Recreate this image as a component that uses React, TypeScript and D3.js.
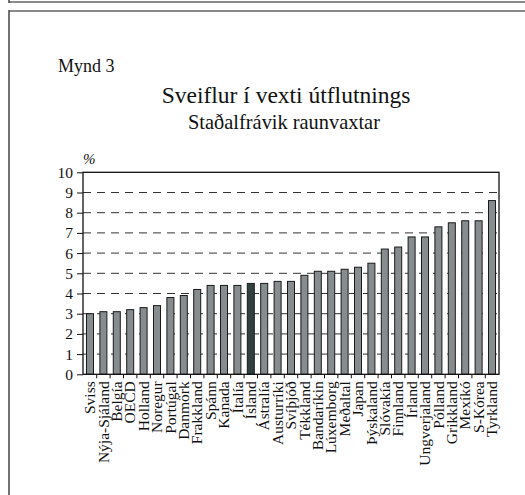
import * as d3 from "d3";
import React, { useEffect, useRef } from "react";

const countries = [
  "Sviss", "Nýja-Sjáland", "Belgía", "OECD", "Holland", "Noregur", "Portúgal",
  "Danmörk", "Frakkland", "Spánn", "Kanada", "Ítalía", "Ísland", "Ástralía",
  "Austurríki", "Svíþjóð", "Tékkland", "Bandaríkin", "Lúxemborg", "Meðaltal",
  "Japan", "Þýskaland", "Slóvakía", "Finnland", "Írland", "Ungverjaland",
  "Pólland", "Grikkland", "Mexíkó", "S-Kórea", "Tyrkland",
];
const values = [
  3.0, 3.1, 3.1, 3.2, 3.3, 3.4, 3.8, 3.9, 4.2, 4.4, 4.4, 4.4, 4.5, 4.5, 4.6,
  4.6, 4.9, 5.1, 5.1, 5.2, 5.3, 5.5, 6.2, 6.3, 6.8, 6.8, 7.3, 7.5, 7.6, 7.6, 8.6,
];
const yTicks = [0, 1, 2, 3, 4, 5, 6, 7, 8, 9, 10];
const highlight = "Ísland";

const App = () => {
  const node = useRef<SVGSVGElement>(null);

  useEffect(() => {
    const font = "'Liberation Serif', 'Times New Roman', serif";
    const left = 83;
    const right = 499;
    const top = 172.3;
    const bottom = 374.3;

    const svg = d3.select(node.current);
    svg.selectAll("*").remove();

    // page frame
    svg.append("line").attr("x1", 9).attr("x2", 525).attr("y1", 2).attr("y2", 2)
      .attr("stroke", "#8a8a8a").attr("stroke-width", 2);
    svg.append("line").attr("x1", 9).attr("x2", 9).attr("y1", 0).attr("y2", 3)
      .attr("stroke", "#444").attr("stroke-width", 1.5);
    svg.append("line").attr("x1", 9).attr("x2", 525).attr("y1", 11).attr("y2", 11)
      .attr("stroke", "#8a8a8a").attr("stroke-width", 2);
    svg.append("line").attr("x1", 9).attr("x2", 9).attr("y1", 10).attr("y2", 495)
      .attr("stroke", "#444").attr("stroke-width", 1.5);

    svg.append("text").attr("x", 58).attr("y", 72).text("Mynd 3")
      .attr("font-family", font).attr("font-size", 18).attr("fill", "#111");
    svg.append("text").attr("x", 286).attr("y", 103).text("Sveiflur í vexti útflutnings")
      .attr("font-family", font).attr("font-size", 23.5).attr("text-anchor", "middle").attr("fill", "#111");
    svg.append("text").attr("x", 284).attr("y", 129).text("Staðalfrávik raunvaxtar")
      .attr("font-family", font).attr("font-size", 20.4).attr("text-anchor", "middle").attr("fill", "#111");
    svg.append("text").attr("x", 83).attr("y", 164).text("%")
      .attr("font-family", font).attr("font-size", 15).attr("font-style", "italic").attr("fill", "#111");

    const x = d3.scaleBand<string>().domain(countries).range([left, right])
      .paddingInner(0.477).paddingOuter(0.26);
    const y = d3.scaleLinear().domain([0, 10]).range([bottom, top]);

    // dashed grid
    svg.append("g").selectAll("line").data(yTicks.filter((d) => d > 0 && d < 10)).join("line")
      .attr("x1", left).attr("x2", right)
      .attr("y1", (d) => y(d)).attr("y2", (d) => y(d))
      .attr("stroke", "#333").attr("stroke-width", 1).attr("stroke-dasharray", "8,6");

    // bars
    svg.append("g").selectAll("rect").data(values).join("rect")
      .attr("x", (d, i) => x(countries[i])!)
      .attr("y", (d) => y(d))
      .attr("width", x.bandwidth())
      .attr("height", (d) => y(0) - y(d))
      .attr("fill", (d, i) => (countries[i] === highlight ? "#2f403f" : "#878c8f"))
      .attr("stroke", "#1a1a1a").attr("stroke-width", 1);

    // frame of plot
    svg.append("rect").attr("x", left).attr("y", top).attr("width", right - left)
      .attr("height", bottom - top).attr("fill", "none").attr("stroke", "#111").attr("stroke-width", 1.3);

    // y axis
    const yAxis = svg.append("g").attr("transform", `translate(${left},0)`)
      .call(d3.axisLeft(y).tickValues(yTicks).tickSize(6).tickPadding(4).tickFormat(d3.format("d")));
    yAxis.select(".domain").remove();
    yAxis.selectAll("line").attr("stroke", "#111");
    yAxis.selectAll("text").attr("font-family", font).attr("font-size", 15.5).attr("fill", "#111");

    // x ticks at category boundaries
    const step = x.step();
    const bounds = countries.slice(1).map((c) => x(c)! - (step - x.bandwidth()) / 2);
    svg.append("g").selectAll("line").data(bounds).join("line")
      .attr("x1", (d) => d).attr("x2", (d) => d)
      .attr("y1", bottom).attr("y2", bottom + 4)
      .attr("stroke", "#111").attr("stroke-width", 1);

    // x labels
    svg.append("g").selectAll("text").data(countries).join("text")
      .attr("transform", (d) => `translate(${x(d)! + x.bandwidth() / 2},${bottom + 7}) rotate(-90)`)
      .attr("text-anchor", "end").attr("dy", "0.33em")
      .attr("font-family", font).attr("font-size", 15.5).attr("fill", "#111")
      .text((d) => d);
  }, []);

  return (
    <svg ref={node} width={525} height={495}
      style={{ position: "absolute", left: 0, top: 0, background: "#fff" }} />
  );
};

export default App;
